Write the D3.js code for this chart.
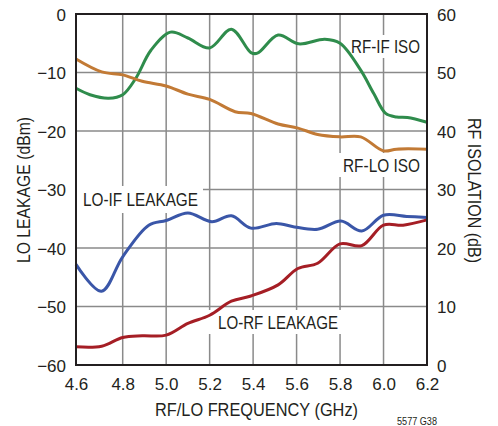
<!DOCTYPE html>
<html><head><meta charset="utf-8">
<script src="https://cdn.jsdelivr.net/npm/d3@7/dist/d3.min.js"></script>
<style>body{margin:0;background:#fff}svg{display:block}text{font-family:"Liberation Sans",Arial,sans-serif;fill:#231f20}</style>
</head><body>
<script>
const xTicks = [4.6, 4.8, 5.0, 5.2, 5.4, 5.6, 5.8, 6.0, 6.2];
const leftTicks = [0, -10, -20, -30, -40, -50, -60];
const rightTicks = [60, 50, 40, 30, 20, 10, 0];

const rfIfFreq = [4.6, 4.66, 4.74, 4.8, 4.86, 4.93, 5.02, 5.1, 5.2, 5.3, 5.39, 5.42, 5.515, 5.61, 5.73, 5.8, 5.895, 5.955, 6.01, 6.06, 6.11, 6.2];
const rfIfIso  = [47.3, 46.2, 45.6, 46.2, 49.0, 53.8, 56.9, 55.9, 54.2, 57.4, 53.4, 53.3, 56.4, 54.9, 55.7, 55.0, 50.4, 46.4, 43.0, 42.4, 42.3, 41.5];

const rfLoFreq = [4.6, 4.71, 4.8, 4.89, 5.0, 5.1, 5.2, 5.317, 5.39, 5.515, 5.606, 5.697, 5.8, 5.895, 6.0, 6.06, 6.2];
const rfLoIso  = [52.3, 50.1, 49.6, 48.5, 47.7, 46.3, 45.4, 43.3, 43.0, 41.2, 40.5, 39.4, 39.0, 39.0, 36.6, 36.9, 36.9];

const loIfFreq = [4.6, 4.709, 4.8, 4.92, 5.0, 5.1, 5.21, 5.30, 5.39, 5.507, 5.59, 5.697, 5.804, 5.90, 6.0, 6.107, 6.2];
const loIfLeak = [-42.8, -47.4, -41.5, -36.1, -35.3, -34.0, -35.5, -34.5, -36.6, -35.8, -36.4, -36.8, -35.4, -37.1, -34.4, -34.6, -34.8];

const loRfFreq = [4.6, 4.71, 4.8, 4.89, 5.0, 5.1, 5.2, 5.3, 5.39, 5.515, 5.606, 5.697, 5.8, 5.9, 6.0, 6.09, 6.2];
const loRfLeak = [-56.9, -56.8, -55.3, -55.0, -54.9, -52.9, -51.5, -49.1, -48.2, -46.3, -43.5, -42.6, -39.3, -39.6, -36.1, -36.1, -35.2];

const W = 498, H = 426;
const L = 76, R = 427, T = 14, B = 365;

const svg = d3.select("body").append("svg").attr("width", W).attr("height", H);
const x = d3.scaleLinear().domain([4.6, 4.8, 6.2]).range([L, 122.7, R]);
const yL = d3.scaleLinear().domain([-60, 0]).range([B, T]);
const yR = d3.scaleLinear().domain([0, 60]).range([B, T]);

// grid
const grid = svg.append("g").attr("stroke", "#8a8a8a").attr("stroke-width", 1.5);
xTicks.slice(1, -1).forEach(t => grid.append("line").attr("x1", x(t)).attr("x2", x(t)).attr("y1", T).attr("y2", B));
leftTicks.slice(1, -1).forEach(t => grid.append("line").attr("x1", L).attr("x2", R).attr("y1", yL(t)).attr("y2", yL(t)));

// label boxes (white backgrounds)
const boxes = [[77, 186, 126, 27], [205, 310, 140, 24], [347, 35, 78, 23], [339, 153, 85, 24]];
boxes.forEach(b => svg.append("rect").attr("x", b[0]).attr("y", b[1]).attr("width", b[2]).attr("height", b[3]).attr("fill", "#fff"));

// curves
const mk = (fs, vs, y) => d3.line().curve(d3.curveCatmullRom.alpha(0.5)).x((d, i) => x(fs[i])).y(d => y(d))(vs);
const curves = [
  [mk(rfIfFreq, rfIfIso, yR), "#2f8c4c"],
  [mk(rfLoFreq, rfLoIso, yR), "#c27a35"],
  [mk(loIfFreq, loIfLeak, yL), "#3a56a8"],
  [mk(loRfFreq, loRfLeak, yL), "#a51e25"]
];
curves.forEach(c => svg.append("path").attr("d", c[0]).attr("fill", "none").attr("stroke", c[1]).attr("stroke-width", 3).attr("stroke-linejoin", "round"));

// frame
svg.append("rect").attr("x", L).attr("y", T).attr("width", R - L).attr("height", B - T)
  .attr("fill", "none").attr("stroke", "#231f20").attr("stroke-width", 2);

// axes labels
const fs = 17;
const xAxis = d3.axisBottom(x).tickValues(xTicks).tickSize(0).tickPadding(0).tickFormat(d3.format(".1f"));
const gx = svg.append("g").attr("transform", `translate(0,${B})`).call(xAxis);
gx.select(".domain").remove();
gx.selectAll("text").attr("y", 25).attr("dy", 0).attr("font-size", fs).attr("fill", "#231f20")
  .attr("font-family", "Liberation Sans");

const yAxisL = d3.axisLeft(yL).tickValues(leftTicks).tickSize(0).tickPadding(0)
  .tickFormat(d => d === 0 ? "0" : "\u2212" + Math.abs(d));
const gl = svg.append("g").attr("transform", `translate(${L},0)`).call(yAxisL);
gl.select(".domain").remove();
gl.selectAll("text").attr("x", -10).attr("dy", "0.36em").attr("font-size", fs).attr("fill", "#231f20")
  .attr("font-family", "Liberation Sans");

const yAxisR = d3.axisRight(yR).tickValues(rightTicks).tickSize(0).tickPadding(0);
const gr = svg.append("g").attr("transform", `translate(${R},0)`).call(yAxisR);
gr.select(".domain").remove();
gr.selectAll("text").attr("x", 10).attr("dy", "0.36em").attr("font-size", fs).attr("fill", "#231f20")
  .attr("font-family", "Liberation Sans");

const txt = (t, xx, yy, len, size, anchor) => svg.append("text").attr("x", xx).attr("y", yy)
  .attr("font-size", size).attr("text-anchor", anchor || "start")
  .attr("textLength", len).attr("lengthAdjust", "spacingAndGlyphs").text(t);

txt("RF/LO FREQUENCY (GHz)", 155, 416, 203, 18);
svg.append("text").attr("transform", "translate(30,263) rotate(-90)").attr("font-size", 18)
  .attr("textLength", 146).attr("lengthAdjust", "spacingAndGlyphs").text("LO LEAKAGE (dBm)");
svg.append("text").attr("transform", "translate(468,118) rotate(90)").attr("font-size", 18)
  .attr("textLength", 145).attr("lengthAdjust", "spacingAndGlyphs").text("RF ISOLATION (dB)");
txt("5577 G38", 397, 425, 40, 10.5);

// series labels
txt("LO-IF LEAKAGE", 83, 206, 115, 18.5);
txt("LO-RF LEAKAGE", 218, 329, 120, 18.5);
txt("RF-IF ISO", 351, 53, 69, 18.5);
txt("RF-LO ISO", 343, 172, 77, 18.5);
</script>
</body></html>
